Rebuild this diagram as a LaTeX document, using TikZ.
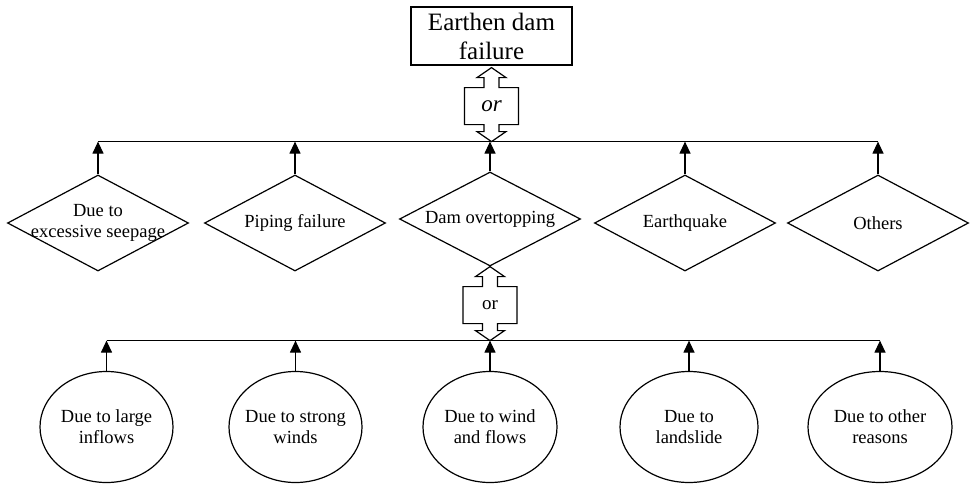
\documentclass[tikz,border=0pt]{standalone}
\usepackage{fontspec}
\setmainfont{Liberation Serif}
\usetikzlibrary{shapes.geometric,arrows.meta,calc}

\tikzstyle{topevent} = [
    draw,
    rectangle,
    line width=1.2pt,
    minimum width=161pt,
    minimum height=58pt,
    inner sep=0pt,
    align=center,
    font=\fontsize{25}{29}\selectfont
    ]
\tikzstyle{mode} = [
    draw,
    diamond,
    line width=1.2pt,
    minimum width=181pt,
    minimum height=96pt,
    inner sep=0pt
    ]
\tikzstyle{cause} = [
    draw,
    ellipse,
    line width=1.2pt,
    minimum height=111pt,
    inner sep=0pt
    ]
\tikzstyle{nodetext} = [
    align=center,
    inner sep=0pt,
    font=\fontsize{18.5}{21}\selectfont
    ]
\tikzstyle{up} = [line width=1.2pt, -{Triangle[length=12pt,width=11pt]}]
\tikzstyle{gate} = [line width=1.2pt, fill=white, line join=miter]

% double-headed "or" arrow hanging down from #1
\newcommand{\orgate}[2]{%
  \draw[gate] (#1) -- ++(14.5,10) -- ++(-7,0) -- ++(0,10) -- ++(19.5,0)
    -- ++(0,37) -- ++(-19.5,0) -- ++(0,7) -- ++(7,0) -- ++(-14.5,10)
    -- ++(-14.5,-10) -- ++(7,0) -- ++(0,-7) -- ++(-19.5,0) -- ++(0,-37)
    -- ++(19.5,0) -- ++(0,-10) -- ++(-7,0) -- cycle;
  \node[inner sep=0pt] at ($(#1)+(0,38.5)$) {#2};
}

\begin{document}
\begin{tikzpicture}[x=1pt,y=-1pt]
\useasboundingbox (0,0) rectangle (971,485);

% top event
\node[topevent] (top) at (491.5,36) {Earthen dam\\failure};

% failure modes
\node[mode, label={[nodetext]center:Due to\\excessive seepage}] (d1) at (98,223) {};
\node[mode, label={[nodetext]center:Piping failure}] (d2) at (295,223) {};
\node[mode, minimum height=94pt, label={[nodetext]center:Dam overtopping}] (d3) at (490,219) {};
\node[mode, label={[nodetext]center:Earthquake}] (d4) at (685,223) {};
\node[mode, label={[nodetext]center:Others}] (d5) at (878,223) {};

% causes of overtopping
\node[cause, minimum width=133pt, label={[nodetext]center:Due to large\\inflows}] (e1) at (106.5,427) {};
\node[cause, minimum width=133pt, label={[nodetext]center:Due to strong\\winds}] (e2) at (295.5,427) {};
\node[cause, minimum width=134pt, label={[nodetext]center:Due to wind\\and flows}] (e3) at (490,427) {};
\node[cause, minimum width=138pt, label={[nodetext]center:Due to\\landslide}] (e4) at (689,427) {};
\node[cause, minimum width=144pt, label={[nodetext]center:Due to other\\reasons}] (e5) at (880,427) {};

% upper or-gate and bus
\coordinate (or1) at ($(top.south)+(0,2)$);
\coordinate (bus1) at ($(or1)+(0,74)$);
\draw[line width=1.2pt] (d1.north |- bus1) -- (d5.north |- bus1);
\foreach \n in {1,...,5}
    \draw[up] (d\n.north) -- (d\n.north |- bus1);
\orgate{or1}{\fontsize{23}{26}\selectfont\itshape or}

% lower or-gate and bus
\coordinate (or2) at (d3.south);
\coordinate (bus2) at ($(or2)+(0,74)$);
\draw[line width=1.2pt] (e1.north |- bus2) -- (e5.north |- bus2);
\foreach \n in {1,...,5}
    \draw[up] (e\n.north) -- (e\n.north |- bus2);
\orgate{or2}{\fontsize{19}{22}\selectfont or}

\end{tikzpicture}
\end{document}
